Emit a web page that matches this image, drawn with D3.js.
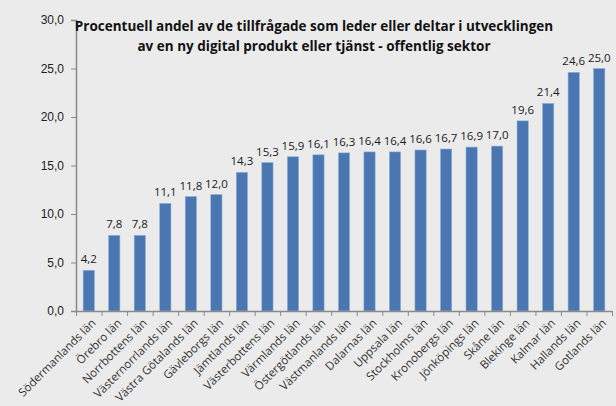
<!DOCTYPE html>
<html>
<head>
<meta charset="utf-8">
<script src="https://cdn.jsdelivr.net/npm/d3@7"></script>
<style>
  body { margin: 0; background: #ebebeb; }
  svg { display: block; font-family: "Open Sans", "Liberation Sans", sans-serif; }
</style>
</head>
<body>
<div id="chart"></div>
<script>
const categories = ["Södermanlands län", "Örebro län", "Norrbottens län", "Västernorrlands län",
    "Västra Götalands län", "Gävleborgs län", "Jämtlands län", "Västerbottens län", "Värmlands län",
    "Östergötlands län", "Västmanlands län", "Dalarnas län", "Uppsala län", "Stockholms län",
    "Kronobergs län", "Jönköpings län", "Skåne län", "Blekinge län", "Kalmar län", "Hallands län",
    "Gotlands län"];
const values = [4.2, 7.8, 7.8, 11.1, 11.8, 12.0, 14.3, 15.3, 15.9, 16.1, 16.3, 16.4, 16.4,
    16.6, 16.7, 16.9, 17.0, 19.6, 21.4, 24.6, 25.0];
const yTicks = [0, 5, 10, 15, 20, 25, 30];
const titleLines = ["Procentuell andel av de tillfrågade som leder eller deltar i utvecklingen",
    "av en ny digital produkt eller tjänst - offentlig sektor"];

const W = 616, H = 406;
const margin = {top: 20, right: 4, bottom: 95, left: 76};
const width = W - margin.left - margin.right,
    height = H - margin.top - margin.bottom;

const fmt = v => d3.format(".1f")(v).replace(".", ",");

const svg = d3.select("#chart").append("svg")
    .attr("width", W)
    .attr("height", H);

const g = svg.append("g")
    .attr("transform", `translate(${margin.left},${margin.top})`);

const x = d3.scaleBand().domain(categories).range([0, width]).paddingInner(0.56).paddingOuter(0.28);
const xb = d3.scaleLinear().domain([0, categories.length]).range([0, width]);
const y = d3.scaleLinear().domain([0, 30]).range([height, 0]);

// bars
g.selectAll(".bar")
    .data(values)
    .enter()
    .append("rect")
    .attr("class", "bar")
    .attr("x", (d, i) => x(categories[i]))
    .attr("y", d => y(d))
    .attr("width", x.bandwidth())
    .attr("height", d => height - y(d))
    .style("fill", "#4a77b1")
    .style("stroke", "#8fb0d8")
    .style("stroke-width", 0.6);

// value labels
g.selectAll(".val")
    .data(values)
    .enter()
    .append("text")
    .attr("class", "val")
    .attr("x", (d, i) => x(categories[i]) + x.bandwidth() / 2)
    .attr("y", d => y(d) - 7)
    .attr("text-anchor", "middle")
    .style("font-size", "11.5px")
    .style("fill", "#1a1a1a")
    .text(d => fmt(d));

// y-axis
const yAxis = g.append("g")
    .call(d3.axisLeft(y).tickValues(yTicks).tickSize(5).tickFormat(fmt));
yAxis.select(".domain").attr("stroke", "#8a8a8a").attr("stroke-width", 1.5);
yAxis.selectAll(".tick line").attr("stroke", "#8a8a8a");
yAxis.selectAll(".tick text")
    .attr("x", -12)
    .style("font-size", "12px")
    .style("fill", "#222");

// x-axis with ticks between categories
const xAxis = g.append("g")
    .attr("transform", `translate(0,${height})`)
    .call(d3.axisBottom(xb).tickValues(d3.range(categories.length + 1))
        .tickSize(5).tickSizeOuter(0).tickFormat(""));
xAxis.select(".domain").attr("stroke", "#8a8a8a").attr("stroke-width", 1.5);
xAxis.selectAll(".tick line").attr("stroke", "#8a8a8a");

// x labels
g.append("g")
    .selectAll("text")
    .data(categories)
    .enter()
    .append("text")
    .attr("transform", d => `translate(${x(d) + x.bandwidth() / 2 + 5},${height + 10}) rotate(-45)`)
    .attr("text-anchor", "end")
    .attr("dy", "0.35em")
    .style("font-size", "11.5px")
    .style("fill", "#333")
    .text(d => d);

// title
svg.append("g")
    .selectAll("text")
    .data(titleLines)
    .enter()
    .append("text")
    .attr("x", 314)
    .attr("y", (d, i) => 31 + i * 20)
    .attr("text-anchor", "middle")
    .style("font-size", "13.5px")
    .style("font-weight", "bold")
    .style("fill", "#111")
    .text(d => d);
</script>
</body>
</html>
